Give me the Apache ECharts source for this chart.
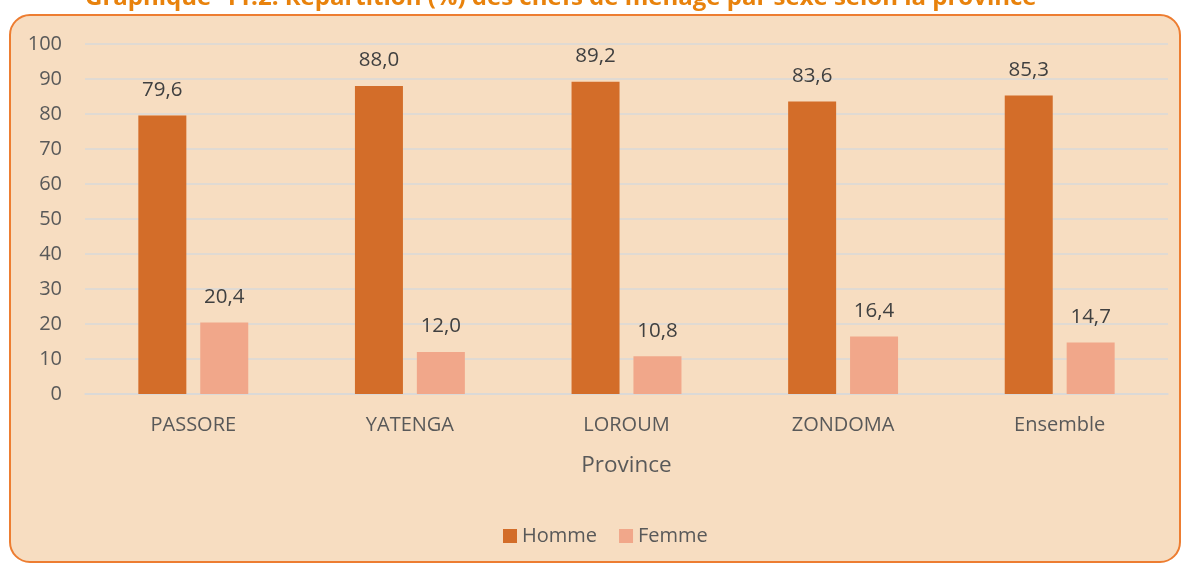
<!DOCTYPE html>
<html>
<head>
<meta charset="utf-8">
<script src="https://cdn.jsdelivr.net/npm/echarts@6/dist/echarts.min.js"></script>
<style>
  html, body { margin: 0; padding: 0; background: #ffffff; }
  #chart { width: 1184px; height: 564px; }
</style>
</head>
<body>
<div id="chart"></div>
<script>
// Chefs de ménage par sexe, selon la province (%)
const provinces = ['PASSORE', 'YATENGA', 'LOROUM', 'ZONDOMA', 'Ensemble'];
const homme = [79.6, 88.0, 89.2, 83.6, 85.3];
const femme = [20.4, 12.0, 10.8, 16.4, 14.7];
const seriesNames = ['Homme', 'Femme'];
const titleText = 'Graphique  11.2: Répartition (%) des chefs de ménage par sexe selon la province';

const FONT = '"Open Sans", sans-serif';
const fmt = v => v.toFixed(1).replace('.', ',');

const chart = echarts.init(document.getElementById('chart'), null, { renderer: 'canvas' });

const valueLabel = {
  show: true,
  position: 'top',
  distance: 15,
  color: '#404040',
  fontFamily: FONT,
  fontSize: 20.5,
  formatter: p => fmt(p.value)
};

chart.setOption({
  backgroundColor: '#ffffff',
  animation: false,
  title: {
    text: titleText,
    left: 80,
    top: -19,
    textStyle: { color: '#E8820C', fontFamily: FONT, fontWeight: 'bold', fontSize: 24 }
  },
  graphic: [{
    type: 'rect',
    z: -10,
    silent: true,
    shape: { x: 10, y: 15, width: 1170, height: 547, r: 20 },
    style: { fill: '#F7DDC1', stroke: '#ED7D31', lineWidth: 2 }
  }],
  grid: { left: 85, right: 16, top: 44, bottom: 170 },
  legend: {
    data: seriesNames,
    bottom: 13,
    left: 498,
    itemWidth: 14,
    itemHeight: 14,
    itemGap: 22,
    icon: 'rect',
    textStyle: { color: '#595959', fontFamily: FONT, fontSize: 20 }
  },
  xAxis: {
    type: 'category',
    data: provinces,
    name: 'Province',
    nameLocation: 'middle',
    nameGap: 60,
    nameTextStyle: { color: '#595959', fontFamily: FONT, fontSize: 22.5 },
    axisLine: { show: true, lineStyle: { color: '#D9D9D9', width: 1.5 } },
    axisTick: { show: false },
    axisLabel: { color: '#595959', fontFamily: FONT, fontSize: 20, margin: 21 }
  },
  yAxis: {
    type: 'value',
    min: 0,
    max: 100,
    interval: 10,
    axisLine: { show: false },
    axisTick: { show: false },
    splitLine: { lineStyle: { color: '#D9D9D9', width: 1.5 } },
    axisLabel: { color: '#595959', fontFamily: FONT, fontSize: 20, margin: 23 }
  },
  series: [
    {
      name: seriesNames[0],
      type: 'bar',
      data: homme,
      barWidth: 48,
      barGap: '29%',
      itemStyle: { color: '#D36D29' },
      label: valueLabel
    },
    {
      name: seriesNames[1],
      type: 'bar',
      data: femme,
      barWidth: 48,
      itemStyle: { color: '#F1A78A' },
      label: valueLabel
    }
  ]
});
</script>
</body>
</html>
